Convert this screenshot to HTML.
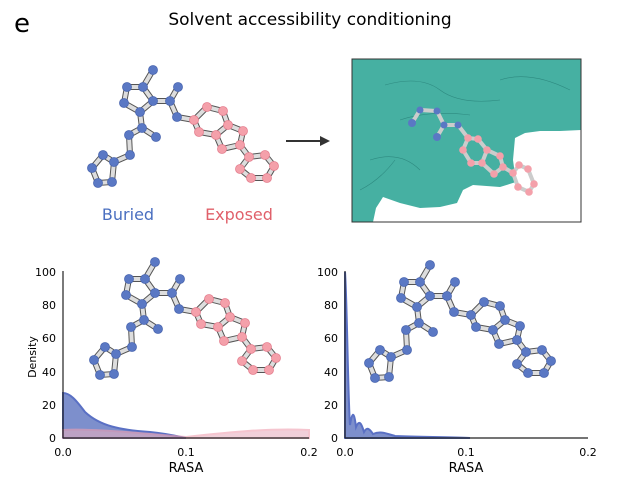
<!DOCTYPE html>
<html><head><style>body{margin:0;background:#fff;}svg{display:block}text{font-family:"DejaVu Sans","Liberation Sans",sans-serif}</style></head><body>
<svg width="620" height="490" viewBox="0 0 620 490">
<defs>
<g id="mol">
<g stroke="#555" stroke-width="6" stroke-linecap="round" fill="none">
<path id="edges" d="M153 70L143 87L127 87L124 103L140 112L153 101L143 87M153 101L170 101L178 87M170 101L177 117L194 120M140 112L142 128L156 137M142 128L129 135L130 155L114 162L103 155L92 168L98 183L112 182L114 162M194 120L207 107L223 111L228 125L216 135L199 132L194 120M228 125L243 131L240 145L222 149L216 135M240 145L249 157L265 155L274 166L267 178L251 178L240 169L249 157"/>
</g>
<use href="#edges" stroke="#ddd" stroke-width="4" fill="none"/>
</g>
<g id="bn"><g fill="#5a78c4" stroke="#4a66b0" stroke-width="0.8">
<circle cx="153" cy="70" r="4.5"/><circle cx="143" cy="87" r="4.5"/><circle cx="127" cy="87" r="4.5"/><circle cx="124" cy="103" r="4.5"/><circle cx="140" cy="112" r="4.5"/><circle cx="153" cy="101" r="4.5"/><circle cx="170" cy="101" r="4.5"/><circle cx="178" cy="87" r="4.5"/><circle cx="177" cy="117" r="4.5"/><circle cx="142" cy="128" r="4.5"/><circle cx="156" cy="137" r="4.5"/><circle cx="129" cy="135" r="4.5"/><circle cx="130" cy="155" r="4.5"/><circle cx="114" cy="162" r="4.5"/><circle cx="103" cy="155" r="4.5"/><circle cx="92" cy="168" r="4.5"/><circle cx="98" cy="183" r="4.5"/><circle cx="112" cy="182" r="4.5"/></g></g>
<g id="pn">
<circle cx="194" cy="120" r="4.5"/><circle cx="207" cy="107" r="4.5"/><circle cx="223" cy="111" r="4.5"/><circle cx="228" cy="125" r="4.5"/><circle cx="216" cy="135" r="4.5"/><circle cx="199" cy="132" r="4.5"/><circle cx="243" cy="131" r="4.5"/><circle cx="240" cy="145" r="4.5"/><circle cx="222" cy="149" r="4.5"/><circle cx="249" cy="157" r="4.5"/><circle cx="265" cy="155" r="4.5"/><circle cx="274" cy="166" r="4.5"/><circle cx="267" cy="178" r="4.5"/><circle cx="251" cy="178" r="4.5"/><circle cx="240" cy="169" r="4.5"/></g>
</defs>
<text x="14" y="32" font-size="26">e</text>
<text x="310" y="25" font-size="17" text-anchor="middle">Solvent accessibility conditioning</text>
<use href="#mol"/><use href="#bn"/><use href="#pn" fill="#f4a0aa" stroke="#e58090" stroke-width="0.8"/>
<text x="128" y="220" font-size="16" fill="#4a6fc0" text-anchor="middle">Buried</text>
<text x="239" y="220" font-size="16" fill="#e0606a" text-anchor="middle">Exposed</text>
<line x1="286" y1="141" x2="322" y2="141" stroke="#333" stroke-width="2"/>
<path d="M330 141L320 136L320 146Z" fill="#333"/>
<!-- right panel -->
<rect x="352" y="59" width="229" height="163" fill="#fff"/>
<path d="M352 59H581V130L560 131L540 131L525 133L515 138L513 160L516 182L500 187L473 185L463 190L457 203L440 207L420 208L400 203L383 197L376 208L373 222H352Z" fill="#46b0a2"/>
<path d="M385 85Q420 75 440 90T500 100M400 120Q430 110 470 115M370 160Q400 150 420 170M500 80Q530 70 570 90M360 190Q380 180 395 160" stroke="#2e8a80" stroke-width="0.6" fill="none"/>
<rect x="352" y="59" width="229" height="163" fill="none" stroke="#333" stroke-width="1"/>
<g stroke="#ccc" stroke-width="4" fill="none" stroke-linecap="round">
<path d="M412 123L420 110L437 111L444 125L437 137M444 125L458 125L468 138L478 139L487 150L482 163L471 163L463 150L468 138M487 150L500 156L503 167L494 174L482 163M503 167L513 173L519 165L528 169L534 184L529 192L518 187L513 173"/>
</g>
<g fill="#5a78c4"><circle cx="412" cy="123" r="4"/><circle cx="420" cy="110" r="3.5"/><circle cx="437" cy="111" r="3.5"/><circle cx="444" cy="125" r="3.5"/><circle cx="437" cy="137" r="4"/><circle cx="458" cy="125" r="3.5"/></g>
<g fill="#f4a0aa"><circle cx="468" cy="138" r="3.8"/><circle cx="478" cy="139" r="3.8"/><circle cx="463" cy="150" r="3.8"/><circle cx="471" cy="163" r="3.8"/><circle cx="482" cy="163" r="3.8"/><circle cx="487" cy="150" r="3.8"/><circle cx="500" cy="156" r="3.8"/><circle cx="503" cy="167" r="3.8"/><circle cx="494" cy="174" r="3.8"/><circle cx="513" cy="173" r="3.8"/><circle cx="519" cy="165" r="3.8"/><circle cx="528" cy="169" r="3.8"/><circle cx="534" cy="184" r="3.8"/><circle cx="529" cy="192" r="3.8"/><circle cx="518" cy="187" r="3.8"/></g>
<!-- left plot -->
<path d="M63 438V393C70 393 76 400 85 412C100 426 120 430 150 432C170 434 180 437 186 438Z" fill="#7d8fcc" stroke="#5a70c4" stroke-width="2"/>
<path d="M63 438V430C90 428 150 434 186 437C230 432 270 428 309 430V438Z" fill="#e8b0c0" opacity="0.6" stroke="#f0a0b0" stroke-width="2"/>
<g transform="translate(2,192)"><use href="#mol"/><use href="#bn"/><use href="#pn" fill="#f4a0aa" stroke="#e58090" stroke-width="0.8"/></g>
<g stroke="#222" stroke-width="1.2"><line x1="63" y1="271" x2="63" y2="438"/><line x1="63" y1="438" x2="309" y2="438"/></g>
<g font-size="11" text-anchor="end"><text x="56" y="276">100</text><text x="56" y="309">80</text><text x="56" y="342">60</text><text x="56" y="376">40</text><text x="56" y="409">20</text><text x="56" y="442">0</text></g>
<g font-size="11" text-anchor="middle"><text x="63" y="456">0.0</text><text x="186" y="456">0.1</text><text x="309" y="456">0.2</text></g>
<text x="186" y="472" font-size="13" text-anchor="middle">RASA</text>
<text x="36" y="357" font-size="11" text-anchor="middle" transform="rotate(-90 36 357)">Density</text>
<!-- right plot -->
<path d="M345 438V272C347 300 348 400 350 425C352 412 354 410 356 427C359 420 361 422 364 432C367 427 369 428 373 434C380 431 385 433 395 436C420 437 450 437 470 438Z" fill="#7d8fcc" stroke="#5a70c4" stroke-width="2"/>
<g transform="translate(277,195)"><use href="#mol"/><use href="#bn"/><use href="#pn" fill="#5a78c4" stroke="#4a66b0" stroke-width="0.8"/></g>
<g stroke="#222" stroke-width="1.2"><line x1="345" y1="271" x2="345" y2="438"/><line x1="345" y1="438" x2="588" y2="438"/></g>
<g font-size="11" text-anchor="end"><text x="338" y="276">100</text><text x="338" y="309">80</text><text x="338" y="342">60</text><text x="338" y="376">40</text><text x="338" y="409">20</text><text x="338" y="442">0</text></g>
<g font-size="11" text-anchor="middle"><text x="345" y="456">0.0</text><text x="466" y="456">0.1</text><text x="588" y="456">0.2</text></g>
<text x="466" y="472" font-size="13" text-anchor="middle">RASA</text>
</svg>
</body></html>
